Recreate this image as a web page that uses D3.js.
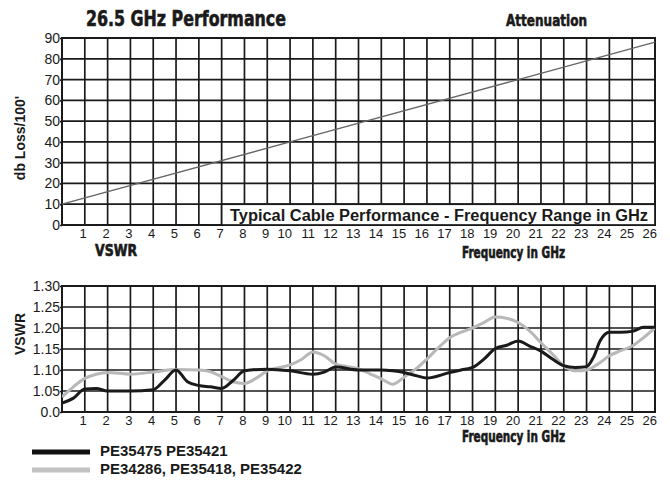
<!DOCTYPE html>
<html>
<head>
<meta charset="utf-8">
<script src="https://cdn.jsdelivr.net/npm/d3@7/dist/d3.min.js"></script>
<style>
  html, body { margin: 0; padding: 0; background: #fff; }
  #chart { width: 670px; height: 480px; }
  text { font-family: "Liberation Sans", Arial, Helvetica, sans-serif; fill: #1a1a1a; }
  .cond { font-family: "Liberation Sans Narrow", "DejaVu Sans Condensed", "Liberation Sans", sans-serif; font-weight: bold; stroke: #1a1a1a; stroke-width: 0.6px; }
</style>
</head>
<body>
<div id="chart"></div>
<script>
// ---- data ----
const freqLabels = [1, 2, 3, 4, 5, 6, 7, 8, 9, 10, 11, 12, 13, 14, 15, 16, 17, 18, 19, 20, 21, 22, 23, 24, 25, 26];
const lossTicks = [0, 10, 20, 30, 40, 50, 60, 70, 80, 90];
const vswrTicks = [1.00, 1.05, 1.10, 1.15, 1.20, 1.25, 1.30];
const vswrTickLabels = ["0.0", "1.05", "1.10", "1.15", "1.20", "1.25", "1.30"];

// attenuation (db loss / 100 ft)
const attenFreq = [0, 10, 20, 26];
const attenLoss = [10, 40, 70, 88];

// VSWR - PE35475 PE35421 (black)
const blackFreq = [0, 0.5, 1, 1.5, 2, 3, 4, 4.5, 5, 5.5, 6, 6.5, 7, 7.5, 8, 9, 10, 11, 11.5, 12, 13, 14, 14.5, 15, 15.5, 16, 17, 17.5, 18, 18.5, 19, 19.5, 20, 20.5, 21, 21.5, 22, 22.5, 23, 23.3, 23.6, 24, 24.5, 25, 25.5, 26];
const blackVswr = [1.021, 1.033, 1.055, 1.056, 1.050, 1.050, 1.053, 1.076, 1.100, 1.072, 1.063, 1.060, 1.056, 1.075, 1.098, 1.102, 1.098, 1.090, 1.095, 1.107, 1.100, 1.100, 1.098, 1.094, 1.087, 1.081, 1.094, 1.100, 1.106, 1.126, 1.151, 1.159, 1.169, 1.157, 1.145, 1.126, 1.110, 1.106, 1.108, 1.130, 1.170, 1.190, 1.190, 1.192, 1.202, 1.202];

// VSWR - PE34286, PE35418, PE35422 (gray)
const grayFreq = [0, 0.5, 1, 1.5, 2, 3, 4, 5, 6, 6.5, 7, 7.5, 8, 8.5, 9, 10, 10.5, 11, 11.5, 12, 12.5, 13, 13.5, 14, 14.5, 15, 15.5, 16, 16.5, 17, 17.5, 18, 18.5, 19, 19.5, 20, 20.5, 21, 21.5, 22, 22.5, 23, 23.5, 24, 24.5, 25, 25.5, 26];
const grayVswr = [1.036, 1.060, 1.080, 1.090, 1.094, 1.090, 1.095, 1.101, 1.100, 1.096, 1.084, 1.072, 1.068, 1.080, 1.098, 1.112, 1.125, 1.143, 1.134, 1.114, 1.108, 1.103, 1.091, 1.079, 1.066, 1.083, 1.102, 1.126, 1.153, 1.177, 1.190, 1.200, 1.213, 1.226, 1.223, 1.213, 1.193, 1.165, 1.138, 1.110, 1.098, 1.100, 1.114, 1.134, 1.146, 1.157, 1.177, 1.200];

const seriesNames = ["PE35475 PE35421", "PE34286, PE35418, PE35422"];
const seriesColors = ["#1a1a1a", "#b8b8b8"];

(() => {
  const W = 670, H = 480;
  const ink = "#1a1a1a";

  const svg = d3.select("#chart").append("svg")
    .attr("width", W)
    .attr("height", H)
    .attr("viewBox", `0 0 ${W} ${H}`);

  const x = d3.scaleLinear().domain([0, 26]).range([62, 655]);
  const yLoss = d3.scaleLinear().domain([0, 90]).range([225, 38]);
  const yVswr = d3.scaleLinear().domain([1.0, 1.3]).range([412, 286]);

  // grid + frame for one panel
  const drawGrid = (y, ticks) => {
    const g = svg.append("g");
    const [y0, y1] = y.range();
    g.selectAll("line.v")
      .data(d3.range(0, 27))
      .enter().append("line")
      .attr("x1", d => x(d)).attr("x2", d => x(d))
      .attr("y1", y0).attr("y2", y1)
      .attr("stroke", ink).attr("stroke-width", 1.7);
    g.selectAll("line.h")
      .data(ticks)
      .enter().append("line")
      .attr("x1", x(0)).attr("x2", x(26))
      .attr("y1", d => y(d)).attr("y2", d => y(d))
      .attr("stroke", ink).attr("stroke-width", 1.7);
    g.append("rect")
      .attr("x", x(0)).attr("y", y1)
      .attr("width", x(26) - x(0)).attr("height", y0 - y1)
      .attr("fill", "none").attr("stroke", ink).attr("stroke-width", 2);
    return g;
  };

  const styleXAxis = (g) => {
    g.select(".domain").remove();
    g.selectAll("text")
      .attr("text-anchor", "end")
      .attr("x", 1.5)
      .style("font-family", '"Liberation Sans", Arial, sans-serif')
      .style("font-size", "13px")
      .attr("fill", ink);
  };
  const styleYAxis = (g) => {
    g.select(".domain").remove();
    g.selectAll("line").attr("stroke", ink).attr("stroke-width", 1.7);
    g.selectAll("text")
      .style("font-family", '"Liberation Sans", Arial, sans-serif')
      .style("font-size", "14px")
      .attr("fill", ink);
  };

  // ===== top panel: attenuation =====
  drawGrid(yLoss, lossTicks);

  // caption box over the lower-right cells
  svg.append("rect")
    .attr("x", x(7)).attr("y", yLoss(10))
    .attr("width", x(26) - x(7)).attr("height", yLoss(0) - yLoss(10))
    .attr("fill", "#fff").attr("stroke", ink).attr("stroke-width", 1.7);
  svg.append("text")
    .attr("x", 230).attr("y", 220.5)
    .attr("textLength", 418).attr("lengthAdjust", "spacingAndGlyphs")
    .style("font-size", "16px").style("font-weight", "bold")
    .text("Typical Cable Performance - Frequency Range in GHz");

  svg.append("path")
    .datum(attenFreq.map((f, i) => [f, attenLoss[i]]))
    .attr("fill", "none")
    .attr("stroke", "#666")
    .attr("stroke-width", 1.3)
    .attr("d", d3.line().x(d => x(d[0])).y(d => yLoss(d[1])));

  svg.append("g")
    .attr("transform", `translate(0,${yLoss(0)})`)
    .call(d3.axisBottom(x).tickValues(freqLabels).tickSize(0).tickPadding(4))
    .call(styleXAxis);
  svg.append("g")
    .attr("transform", `translate(${x(0)},0)`)
    .call(d3.axisLeft(yLoss).tickValues(lossTicks).tickSize(2).tickPadding(0))
    .call(styleYAxis);

  // ===== bottom panel: VSWR =====
  drawGrid(yVswr, vswrTicks);

  svg.append("clipPath").attr("id", "clipV")
    .append("rect")
    .attr("x", x(0)).attr("y", yVswr(1.3))
    .attr("width", x(26) - x(0)).attr("height", yVswr(1.0) - yVswr(1.3));

  const vLine = d3.line()
    .x(d => x(d[0]))
    .y(d => yVswr(d[1]))
    .curve(d3.curveMonotoneX);

  const series = [
    { freq: grayFreq, vals: grayVswr, color: seriesColors[1] },
    { freq: blackFreq, vals: blackVswr, color: seriesColors[0] }
  ];
  series.forEach(s => {
    svg.append("path")
      .datum(s.freq.map((f, i) => [f, s.vals[i]]))
      .attr("clip-path", "url(#clipV)")
      .attr("fill", "none")
      .attr("stroke", s.color)
      .attr("stroke-width", 3)
      .attr("stroke-linejoin", "round")
      .attr("d", vLine);
  });

  svg.append("g")
    .attr("transform", `translate(0,${yVswr(1.0)})`)
    .call(d3.axisBottom(x).tickValues(freqLabels).tickSize(0).tickPadding(4))
    .call(styleXAxis);
  svg.append("g")
    .attr("transform", `translate(${x(0)},0)`)
    .call(d3.axisLeft(yVswr).tickValues(vswrTicks).tickSize(2).tickPadding(0)
      .tickFormat((d, i) => vswrTickLabels[i]))
    .call(styleYAxis);

  // ===== titles =====
  const condText = (tx, ty, size, len, str) =>
    svg.append("text")
      .attr("class", "cond")
      .attr("x", tx).attr("y", ty)
      .attr("textLength", len).attr("lengthAdjust", "spacingAndGlyphs")
      .style("font-size", `${size}px`)
      .text(str);

  condText(86, 26, 22, 200, "26.5 GHz Performance");
  condText(506, 26, 16.5, 81, "Attenuation");
  condText(95, 256, 15, 42, "VSWR");
  condText(462, 258, 15, 103, "Frequency in GHz");
  condText(462, 442, 15, 103, "Frequency in GHz");

  svg.append("text")
    .attr("transform", `translate(25,138) rotate(-90)`)
    .attr("text-anchor", "middle")
    .style("font-size", "14px").style("font-weight", "bold")
    .text("db Loss/100'");
  svg.append("text")
    .attr("transform", `translate(25,334) rotate(-90)`)
    .attr("text-anchor", "middle")
    .style("font-size", "14px").style("font-weight", "bold")
    .text("VSWR");

  // ===== legend =====
  const legend = svg.append("g");
  seriesNames.forEach((name, i) => {
    const ly = 452 + i * 18;
    legend.append("line")
      .attr("x1", 32).attr("x2", 90)
      .attr("y1", ly).attr("y2", ly)
      .attr("stroke", i === 0 ? "#111" : "#c2c2c2")
      .attr("stroke-width", 5);
    legend.append("text")
      .attr("x", 100).attr("y", ly + 3.5)
      .style("font-size", "15px").style("font-weight", "bold")
      .text(name);
  });
})();
</script>
</body>
</html>
